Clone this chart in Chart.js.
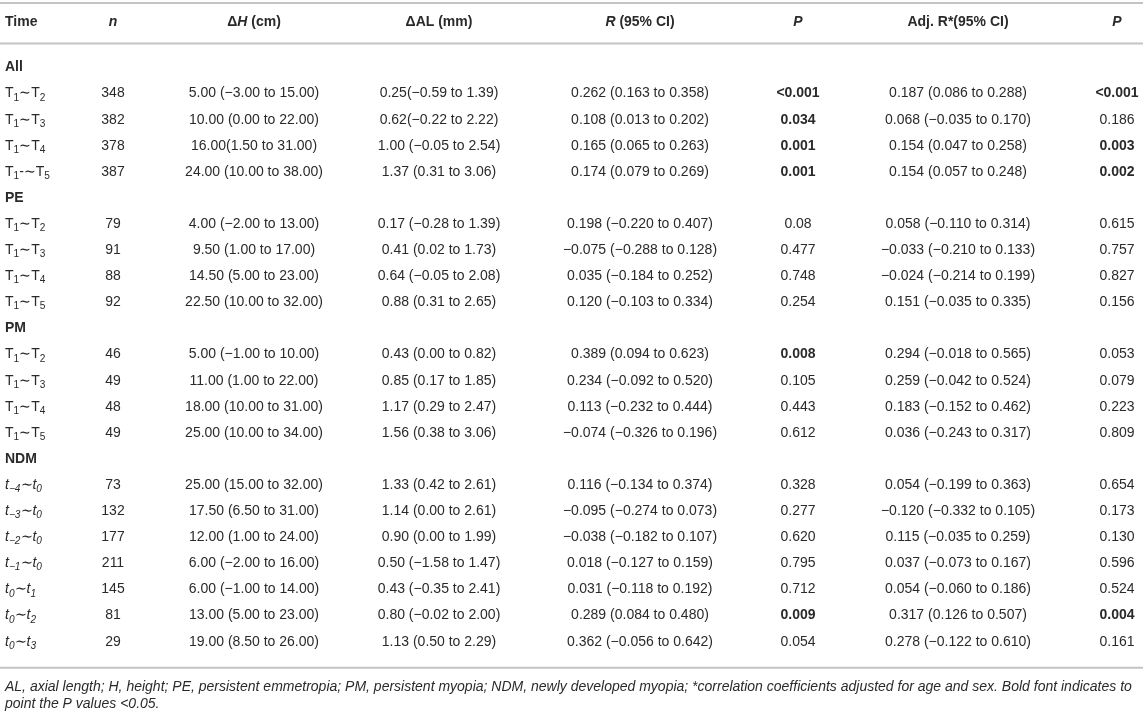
<!DOCTYPE html>
<html lang="en">
<head>
    <meta charset="UTF-8" />
    <title>Delta H vs Delta AL correlation table</title>
    <script src="https://cdn.jsdelivr.net/npm/chart.js"></script>
    <style>
        body {
          margin: 0;
          background: #ffffff;
        }

        .chart-container {
          width: 1143px;
          height: 715px;
          position: relative;
        }
    </style>
</head>
<body>

<div class="chart-container">
    <canvas id="tableChart"></canvas>
</div>

<script>
    // markup: # toggles bold, | toggles italic, _x or _{..} is a subscript
    const headers = ['#Time#', '#|n|#', '#Δ|H| (cm)#', '#ΔAL (mm)#', '#|R| (95% CI)#', '#|P|#', '#Adj. R*(95% CI)#', '#|P|#'];

    const groupNames = ['All', 'PE', 'PM', 'NDM'];
    const groupSizes = [4, 4, 4, 7];

    const timeLabels = [
      'T_1∼T_2', 'T_1∼T_3', 'T_1∼T_4', 'T_1-∼T_5',
      'T_1∼T_2', 'T_1∼T_3', 'T_1∼T_4', 'T_1∼T_5',
      'T_1∼T_2', 'T_1∼T_3', 'T_1∼T_4', 'T_1∼T_5',
      '|t_{−4}∼t_0|', '|t_{−3}∼t_0|', '|t_{−2}∼t_0|', '|t_{−1}∼t_0|', '|t_0∼t_1|', '|t_0∼t_2|', '|t_0∼t_3|'
    ];

    const nValues = [348, 382, 378, 387, 79, 91, 88, 92, 46, 49, 48, 49, 73, 132, 177, 211, 145, 81, 29];

    const deltaH = [
      '5.00 (−3.00 to 15.00)', '10.00 (0.00 to 22.00)', '16.00(1.50 to 31.00)', '24.00 (10.00 to 38.00)',
      '4.00 (−2.00 to 13.00)', '9.50 (1.00 to 17.00)', '14.50 (5.00 to 23.00)', '22.50 (10.00 to 32.00)',
      '5.00 (−1.00 to 10.00)', '11.00 (1.00 to 22.00)', '18.00 (10.00 to 31.00)', '25.00 (10.00 to 34.00)',
      '25.00 (15.00 to 32.00)', '17.50 (6.50 to 31.00)', '12.00 (1.00 to 24.00)', '6.00 (−2.00 to 16.00)',
      '6.00 (−1.00 to 14.00)', '13.00 (5.00 to 23.00)', '19.00 (8.50 to 26.00)'
    ];

    const deltaAL = [
      '0.25(−0.59 to 1.39)', '0.62(−0.22 to 2.22)', '1.00 (−0.05 to 2.54)', '1.37 (0.31 to 3.06)',
      '0.17 (−0.28 to 1.39)', '0.41 (0.02 to 1.73)', '0.64 (−0.05 to 2.08)', '0.88 (0.31 to 2.65)',
      '0.43 (0.00 to 0.82)', '0.85 (0.17 to 1.85)', '1.17 (0.29 to 2.47)', '1.56 (0.38 to 3.06)',
      '1.33 (0.42 to 2.61)', '1.14 (0.00 to 2.61)', '0.90 (0.00 to 1.99)', '0.50 (−1.58 to 1.47)',
      '0.43 (−0.35 to 2.41)', '0.80 (−0.02 to 2.00)', '1.13 (0.50 to 2.29)'
    ];

    const rCI = [
      '0.262 (0.163 to 0.358)', '0.108 (0.013 to 0.202)', '0.165 (0.065 to 0.263)', '0.174 (0.079 to 0.269)',
      '0.198 (−0.220 to 0.407)', '−0.075 (−0.288 to 0.128)', '0.035 (−0.184 to 0.252)', '0.120 (−0.103 to 0.334)',
      '0.389 (0.094 to 0.623)', '0.234 (−0.092 to 0.520)', '0.113 (−0.232 to 0.444)', '−0.074 (−0.326 to 0.196)',
      '0.116 (−0.134 to 0.374)', '−0.095 (−0.274 to 0.073)', '−0.038 (−0.182 to 0.107)', '0.018 (−0.127 to 0.159)',
      '0.031 (−0.118 to 0.192)', '0.289 (0.084 to 0.480)', '0.362 (−0.056 to 0.642)'
    ];

    const pR = [
      '<0.001', '0.034', '0.001', '0.001',
      '0.08', '0.477', '0.748', '0.254',
      '0.008', '0.105', '0.443', '0.612',
      '0.328', '0.277', '0.620', '0.795', '0.712', '0.009', '0.054'
    ];

    const adjRCI = [
      '0.187 (0.086 to 0.288)', '0.068 (−0.035 to 0.170)', '0.154 (0.047 to 0.258)', '0.154 (0.057 to 0.248)',
      '0.058 (−0.110 to 0.314)', '−0.033 (−0.210 to 0.133)', '−0.024 (−0.214 to 0.199)', '0.151 (−0.035 to 0.335)',
      '0.294 (−0.018 to 0.565)', '0.259 (−0.042 to 0.524)', '0.183 (−0.152 to 0.462)', '0.036 (−0.243 to 0.317)',
      '0.054 (−0.199 to 0.363)', '−0.120 (−0.332 to 0.105)', '0.115 (−0.035 to 0.259)', '0.037 (−0.073 to 0.167)',
      '0.054 (−0.060 to 0.186)', '0.317 (0.126 to 0.507)', '0.278 (−0.122 to 0.610)'
    ];

    const pAdj = [
      '<0.001', '0.186', '0.003', '0.002',
      '0.615', '0.757', '0.827', '0.156',
      '0.053', '0.079', '0.223', '0.809',
      '0.654', '0.173', '0.130', '0.596', '0.524', '0.004', '0.161'
    ];

    const footnote = [
      'AL, axial length; H, height; PE, persistent emmetropia; PM, persistent myopia; NDM, newly developed myopia; *correlation coefficients adjusted for age and sex. Bold font indicates to',
      'point the P values <0.05.'
    ];

    // layout (row units on the y scale, px on the x scale)
    const FONT = '"Liberation Sans", Arial, Helvetica, sans-serif';
    const SIZE = 14;
    const FOOT_SIZE = 14;
    const TEXT = '#2a2a2a';
    const RULE = '#c4c4c4';
    const ROW0 = 67.5, PITCH = 26.1;
    const HEADER_ROW = -1.73;
    const RULE_ROWS = [-2.47, -0.92, 23.0];
    const FOOT_ROWS = [23.73, 24.38];
    const colX = [5, 113, 254, 439, 640, 798, 958, 1117];
    const colAlign = ['left', 'center', 'center', 'center', 'center', 'center', 'center', 'center'];

    const isSig = p => p.startsWith('<') || parseFloat(p) < 0.05;

    // build table rows: group label rows followed by their data rows
    const cells = colX.map(() => []);
    let k = 0, row = 0;
    groupNames.forEach((g, gi) => {
      cells[0].push({ row: row, text: '#' + g + '#' });
      row++;
      for (let j = 0; j < groupSizes[gi]; j++, k++, row++) {
        const vals = [timeLabels[k], String(nValues[k]), deltaH[k], deltaAL[k], rCI[k],
                      isSig(pR[k]) ? '#' + pR[k] + '#' : pR[k],
                      adjRCI[k],
                      isSig(pAdj[k]) ? '#' + pAdj[k] + '#' : pAdj[k]];
        vals.forEach((v, c) => cells[c].push({ row: row, text: v }));
      }
    });
    headers.forEach((h, c) => cells[c].push({ row: HEADER_ROW, text: h }));

    function parseRich(str) {
      const segs = [];
      let bold = false, italic = false, buf = '';
      const push = () => { if (buf) segs.push({ t: buf, bold, italic, sub: false }); buf = ''; };
      for (let i = 0; i < str.length; i++) {
        const c = str[i];
        if (c === '#') { push(); bold = !bold; continue; }
        if (c === '|') { push(); italic = !italic; continue; }
        if (c === '_') {
          push();
          if (str[i + 1] === '{') {
            const j = str.indexOf('}', i);
            segs.push({ t: str.slice(i + 2, j), bold, italic, sub: true });
            i = j;
          } else {
            segs.push({ t: str[i + 1], bold, italic, sub: true });
            i++;
          }
          continue;
        }
        buf += c;
      }
      push();
      return segs;
    }

    function segFont(s, size) {
      return (s.italic ? 'italic ' : '') + (s.bold ? 'bold ' : '') + (s.sub ? size * 0.72 : size) + 'px ' + FONT;
    }

    function drawRich(ctx, str, x, y, align, size, italicAll) {
      const segs = parseRich(str);
      if (italicAll) segs.forEach(s => s.italic = true);
      let w = 0;
      segs.forEach(s => { ctx.font = segFont(s, size); s.w = ctx.measureText(s.t).width; w += s.w; });
      let cx = align === 'center' ? x - w / 2 : x;
      segs.forEach(s => {
        ctx.font = segFont(s, size);
        ctx.fillText(s.t, cx, s.sub ? y + size * 0.3 : y);
        cx += s.w;
      });
    }

    const cellText = {
      id: 'cellText',
      afterDatasetsDraw(chart) {
        const ctx = chart.ctx;
        ctx.save();
        ctx.fillStyle = TEXT;
        ctx.textBaseline = 'middle';
        ctx.textAlign = 'left';
        chart.data.datasets.forEach((ds, di) => {
          if (!ds.texts) return;
          chart.getDatasetMeta(di).data.forEach((pt, i) => {
            drawRich(ctx, ds.texts[i], pt.x, pt.y, ds.align, ds.fontSize, ds.italicAll);
          });
        });
        ctx.restore();
      }
    };

    const datasets = [];
    RULE_ROWS.forEach(r => {
      datasets.push({
        data: [{ x: 0, y: r }, { x: 1143, y: r }],
        showLine: true,
        borderColor: RULE,
        borderWidth: 2,
        pointRadius: 0
      });
    });
    cells.forEach((col, c) => {
      datasets.push({
        data: col.map(cell => ({ x: colX[c], y: cell.row })),
        texts: col.map(cell => cell.text),
        align: colAlign[c],
        fontSize: SIZE,
        pointRadius: 0
      });
    });
    datasets.push({
      data: FOOT_ROWS.map(r => ({ x: colX[0], y: r })),
      texts: footnote,
      align: 'left',
      fontSize: FOOT_SIZE,
      italicAll: true,
      pointRadius: 0
    });

    new Chart(document.getElementById('tableChart'), {
      type: 'scatter',
      data: { datasets: datasets },
      options: {
        responsive: true,
        maintainAspectRatio: false,
        animation: false,
        layout: { padding: 0 },
        plugins: {
          legend: { display: false },
          tooltip: { enabled: false }
        },
        scales: {
          x: { type: 'linear', display: false, min: 0, max: 1143 },
          y: { type: 'linear', display: false, reverse: true, min: -ROW0 / PITCH, max: (715 - ROW0) / PITCH }
        }
      },
      plugins: [cellText]
    });
</script>

</body>
</html>
